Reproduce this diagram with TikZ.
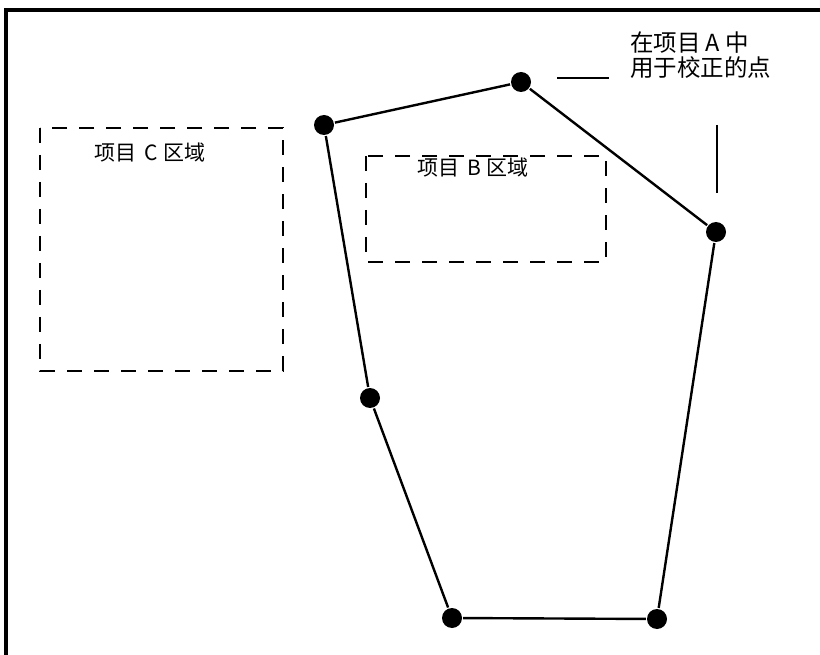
\documentclass[tikz,border=0pt]{standalone}
\usepackage{fontspec}
\newfontfamily\cjk{Noto Sans CJK SC}
\tikzset{
  pt/.style={circle,fill=black,inner sep=0pt,minimum width=19pt,minimum height=20pt},
  area/.style={dash pattern=on 15pt off 12pt,line width=2.6pt},
  lbl/.style={font=\cjk\fontsize{21}{23}\selectfont,inner sep=0pt}
}
\begin{document}
\begin{tikzpicture}[x=1pt,y=-1pt,line width=2.4pt]
\useasboundingbox (0,0) rectangle (820,655);
\draw[line width=3.5pt] (6,656)--(6,10)--(821,10);
% areas
\draw[area] (40,128) rectangle (283,371);
\draw[area] (366,156) rectangle (606,262);
\node[lbl] (c) at (150,153){项目\hspace{8pt}C\hspace{6pt}区域};
\node[lbl] (b) at (473,168){项目\hspace{8pt}B\hspace{6pt}区域};
% points
\node[pt] (p1) at (324,125){};
\node[pt] (p2) at (521,82){};
\node[pt] (p3) at (716,232){};
\node[pt] (p4) at (657,619){};
\node[pt] (p5) at (452,618){};
\node[pt] (p6) at (370,398){};
\draw (p1)--(p2)--(p3)--(p4)--(p5)--(p6)--(p1);
% note
\node[font=\cjk\fontsize{23.5}{25}\selectfont,align=left,inner sep=0pt,anchor=north west] (a) at (629,31){在项目 A 中\\用于校正的点};
\coordinate (h1) at (557,78);
\coordinate (h2) at (609,78);
\coordinate (v1) at (717,125);
\coordinate (v2) at (717,193);
\draw (h1)--(h2);
\draw (v1)--(v2);
\end{tikzpicture}
\end{document}
